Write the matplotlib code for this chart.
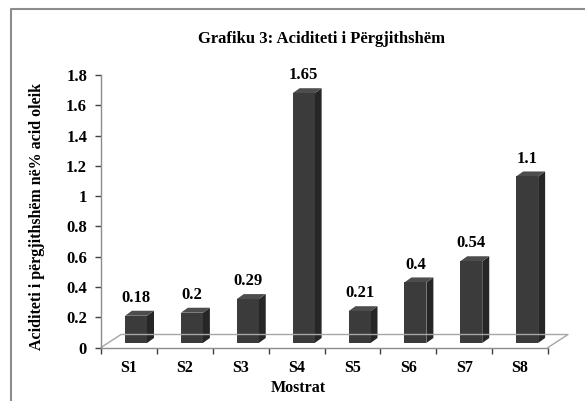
import matplotlib
matplotlib.use('Agg')
import matplotlib.pyplot as plt
from matplotlib.patches import Polygon, Rectangle
from matplotlib.lines import Line2D

samples = ['S1', 'S2', 'S3', 'S4', 'S5', 'S6', 'S7', 'S8']
acidity = [0.18, 0.2, 0.29, 1.65, 0.21, 0.4, 0.54, 1.1]
y_ticks = [0, 0.2, 0.4, 0.6, 0.8, 1, 1.2, 1.4, 1.6, 1.8]
y_tick_labels = ['0', '0.2', '0.4', '0.6', '0.8', '1', '1.2', '1.4', '1.6', '1.8']

W, H = 585, 401
plt.rcParams['font.family'] = ['Liberation Serif', 'DejaVu Serif']
plt.rcParams['font.weight'] = 'bold'

fig = plt.figure(figsize=(W / 100, H / 100), dpi=100)
fig.patch.set_facecolor('white')

# plot area in pixels (front plane)
x0, x1 = 101, 548
y0, y1 = 347.5, 75
ax = fig.add_axes([x0 / W, 1 - y0 / H, (x1 - x0) / W, (y0 - y1) / H])
ax.set_xlim(0, len(samples))
ax.set_ylim(0, 1.8)
ax.patch.set_alpha(0)

# 3d look: offsets in data units
px_x = len(samples) / (x1 - x0)
px_y = 1.8 / (y0 - y1)
floor_dx, floor_dy = 20 * px_x, 13 * px_y
base = 4.5 * px_y
bar_off, bar_w = 24 * px_x, 22 * px_x
side_dx, side_dy = 7 * px_x, 5 * px_y

floor_col = '#a6a6a6'
n = len(samples)
ax.add_line(Line2D([0, floor_dx, n + floor_dx, n], [0, floor_dy, floor_dy, 0],
                   color=floor_col, lw=1.0, clip_on=False))

for i, v in enumerate(acidity):
    left = i + bar_off
    right = left + bar_w
    top = base + v
    ax.add_patch(Polygon([(right, base), (right + side_dx, base + side_dy),
                          (right + side_dx, top + side_dy), (right, top)],
                         closed=True, fc='#262626', ec='none', clip_on=False))
    ax.add_patch(Polygon([(left, top), (left + side_dx, top + side_dy),
                          (right + side_dx, top + side_dy), (right, top)],
                         closed=True, fc='#4d4d4d', ec='none', clip_on=False))
    ax.add_patch(Rectangle((left, base), bar_w, v, fc='#3b3b3b', ec='none', clip_on=False))
    ax.annotate(str(v), (left + bar_w / 2, top + side_dy), xytext=(0, 3.5),
                textcoords='offset points', ha='center', va='bottom',
                fontsize=12, fontweight='bold')

for s in ['top', 'right']:
    ax.spines[s].set_visible(False)
for s in ['left', 'bottom']:
    ax.spines[s].set_color('#8c8c8c')
    ax.spines[s].set_linewidth(1.0)

ax.set_yticks(y_ticks)
ax.set_yticklabels(y_tick_labels)
ax.set_xticks(range(n + 1))
ax.set_xticklabels([])
ax.set_xticks([i + 0.5 for i in range(n)], minor=True)
ax.set_xticklabels(samples, minor=True)
ax.tick_params(axis='y', direction='out', length=4, width=1, color='#404040',
               labelsize=12, pad=6)
ax.tick_params(axis='x', which='major', direction='out', length=4, width=1, color='#404040')
ax.tick_params(axis='x', which='minor', length=0, labelsize=11.5, pad=9)

fig.text(322 / W, 1 - 39 / H, 'Grafiku 3: Aciditeti i Përgjithshëm', ha='center', va='center',
         fontsize=12, fontweight='bold')
fig.text(37 / W, 1 - 216 / H, 'Aciditeti i përgjithshëm në% acid oleik', ha='center', va='center',
         rotation=90, fontsize=11.5, fontweight='bold')
fig.text(298 / W, 1 - 388 / H, 'Mostrat', ha='center', va='center',
         fontsize=11.5, fontweight='bold')

# chart border (only left and top show)
fig.add_artist(Line2D([10.5 / W, 10.5 / W, 1], [0, 1 - 8.5 / H, 1 - 8.5 / H],
                      transform=fig.transFigure, color='#8c8c8c', lw=1.5))

fig.savefig('out.png', dpi=100)
